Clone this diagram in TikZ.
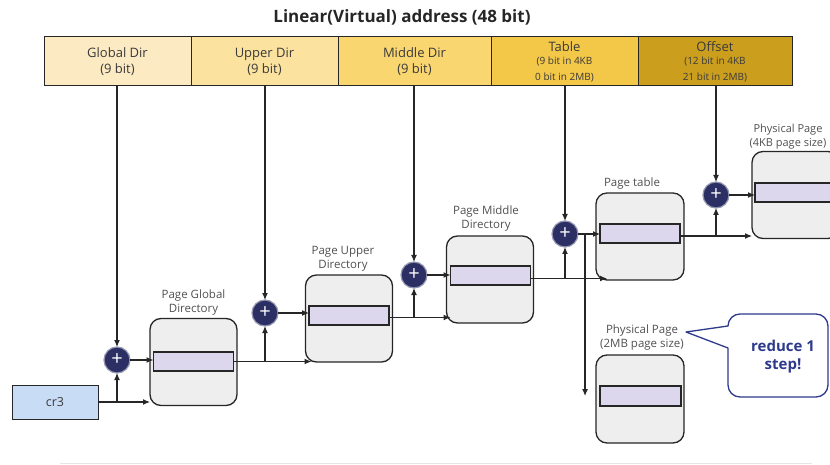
\documentclass[tikz,border=0pt]{standalone}
\usepackage{fontspec}
\setmainfont{Open Sans}
\usetikzlibrary{arrows.meta,calc}
\definecolor{linec}{HTML}{262626}
\definecolor{hgc}{HTML}{FCEAC3}
\definecolor{huc}{HTML}{FBE29E}
\definecolor{hmc}{HTML}{F9D670}
\definecolor{htc}{HTML}{F3C747}
\definecolor{hoc}{HTML}{CC9E1E}
\definecolor{headtext}{HTML}{3A3A3A}
\definecolor{boxfill}{HTML}{EEEEEE}
\definecolor{entryfill}{HTML}{DDD7EE}
\definecolor{lbltext}{HTML}{505050}
\definecolor{navy}{HTML}{2B2F63}
\definecolor{calloutc}{HTML}{2E3A8C}
\definecolor{cr3fill}{HTML}{C8DCF5}
\begin{document}
\begin{tikzpicture}[x=1pt,y=-1pt,
  every node/.style={inner sep=0pt,outer sep=0pt},
  cell/.style={draw=linec,line width=1pt,minimum height=49pt,anchor=north west,align=center,text=headtext,font=\fontsize{13}{16}\selectfont},
  tbl/.style={draw=linec,line width=1.3pt,fill=boxfill,rounded corners=11pt,minimum width=87pt,minimum height=87pt},
  entry/.style={draw=linec,line width=1.3pt,fill=entryfill,minimum width=80pt,minimum height=19pt},
  lbl/.style={align=center,text=lbltext,font=\fontsize{11.5}{13.5}\selectfont},
  plus/.style={circle,fill=navy,draw=navy!50,line width=1.2pt,minimum size=26pt,text=white,font=\fontsize{20}{20}\selectfont},
  conn/.style={draw=linec,line width=1.1pt},
  arr/.style={conn,-{Latex[length=7pt,width=6pt]}}
]
\useasboundingbox (0,0) rectangle (830,465);
\clip (0,0) rectangle (830,465);

% title
\node[font=\bfseries\fontsize{17}{20}\selectfont,text=black!85] (title) at (402,17) {Linear(Virtual) address (48 bit)};

% header cells
\node[cell,fill=hgc,minimum width=147pt] (hg) at (44,37) {Global Dir\\(9 bit)};
\node[cell,fill=huc,minimum width=147pt] (hu) at (191,37) {Upper Dir\\(9 bit)};
\node[cell,fill=hmc,minimum width=153pt] (hm) at (338,37) {Middle Dir\\(9 bit)};
\node[cell,fill=htc,minimum width=147pt] (ht) at (491,37) {Table\\[-3pt]{\fontsize{10}{12.5}\selectfont (9 bit in 4KB}\\{\fontsize{10}{12.5}\selectfont 0 bit in 2MB)}};
\node[cell,fill=hoc,minimum width=154pt] (ho) at (638,37) {Offset\\[-3pt]{\fontsize{10}{12.5}\selectfont (12 bit in 4KB}\\{\fontsize{10}{12.5}\selectfont 21 bit in 2MB)}};

% tables
\node[tbl] (pgd) at (193.5,362) {};
\node[entry] (pgdb) at (193.5,361.5) {};
\node[lbl,anchor=south] (pgdl) at (193.5,315) {Page Global\\Directory};

\node[tbl] (pud) at (349,318.5) {};
\node[entry] (pudb) at (349,315.5) {};
\node[lbl,anchor=south] (pudl) at (343,271) {Page Upper\\Directory};

\node[tbl] (pmd) at (490,279.5) {};
\node[entry] (pmdb) at (490.5,275.5) {};
\node[lbl,anchor=south] (pmdl) at (486,231) {Page Middle\\Directory};

\node[tbl,minimum width=88pt] (pt) at (640,236.5) {};
\node[entry] (ptb) at (640,233.5) {};
\node[lbl,anchor=south] (ptl) at (632,189) {Page table};

\node[tbl] (pp4) at (795.5,195) {};
\node[entry,minimum width=81pt] (pp4b) at (795.5,192.5) {};
\node[lbl,anchor=south,font=\fontsize{11}{13.5}\selectfont] (pp4l) at (788,149) {Physical Page\\(4KB page size)};

\node[tbl,minimum width=88pt,minimum height=88pt] (pp2) at (640,399) {};
\node[entry,minimum width=81pt,minimum height=20pt] (pp2b) at (640.5,396) {};
\node[lbl,anchor=south] (pp2l) at (642,350) {Physical Page\\(2MB page size)};

% cr3
\node[draw=linec,line width=1pt,fill=cr3fill,minimum width=86pt,minimum height=34pt,font=\fontsize{12.5}{14}\selectfont,text=headtext] (cr3) at (55,402) {cr3};

% plus nodes
\node[plus] (p1) at (117,360) {+};
\node[plus] (p2) at (265,313) {+};
\node[plus] (p3) at (414,275) {+};
\node[plus] (p4) at (565,234) {+};
\node[plus] (p5) at (716,195) {+};

% vertical index lines from header
\draw[arr] (p1 |- hg.south) -- (p1.north);
\draw[arr] (p2 |- hu.south) -- (p2.north);
\draw[arr] (p3 |- hm.south) -- (p3.north);
\draw[arr] (p4 |- ht.south) -- (p4.north);
\draw[arr] (p5 |- ho.south) -- (p5.north);

% cr3
\draw[arr] (cr3.east) -- (cr3.east -| pgd.west);
\draw[arr] (p1 |- cr3.east) -- (p1.south);

% plus to entries
\draw[arr] (p1.east) -- (p1.east -| pgdb.west);
\draw[arr] (p2.east) -- (p2.east -| pudb.west);
\draw[arr] (p3.east) -- (p3.east -| pmdb.west);
\draw[arr] (p4.east) -- (p4.east -| ptb.west);
\draw[arr] (p5.east) -- (p5.east -| pp4b.west);

% entries to next table (base)
\coordinate (o1) at (pgdb.east);
\coordinate (o2) at ([yshift=-2pt]pudb.east);
\coordinate (o3) at ([yshift=-3pt]pmdb.east);
\coordinate (o4) at ([yshift=-2.5pt]ptb.east);
\draw[arr] (o1) -- ([xshift=6pt]o1 -| pud.west);
\draw[arr] (p2 |- o1) -- (p2.south);
\draw[arr] (o2) -- ([xshift=4pt]o2 -| pmd.west);
\draw[arr] (p3 |- o2) -- (p3.south);
\draw[arr] (o3) -- ([xshift=11pt]o3 -| pt.west);
\draw[arr] (p4 |- o3) -- (p4.south);
\draw[arr] (o4) -- (o4 -| pp4.west);
\draw[arr] (p5 |- o4) -- (p5.south);

% 2MB path
\coordinate (split) at ($(p4.east)!0.32!(p4.east -| ptb.west)$);
\draw[arr] (split) -- (split |- pp2b.center);

% callout
\draw[draw=calloutc,line width=1.3pt,fill=white,line join=round]
  (728,348) {[rounded corners=12pt] -- (728,397) -- (828,397) -- (828,314) -- (728,314)} -- (728,326) -- (686,332) -- cycle;
\node[align=center,font=\bfseries\fontsize{15}{18}\selectfont,text=calloutc] (note) at (783,357) {reduce 1\\step!};

% faint bottom rule
\draw[black!10,line width=1pt] (60,463) -- (812,463);
\end{tikzpicture}
\end{document}
